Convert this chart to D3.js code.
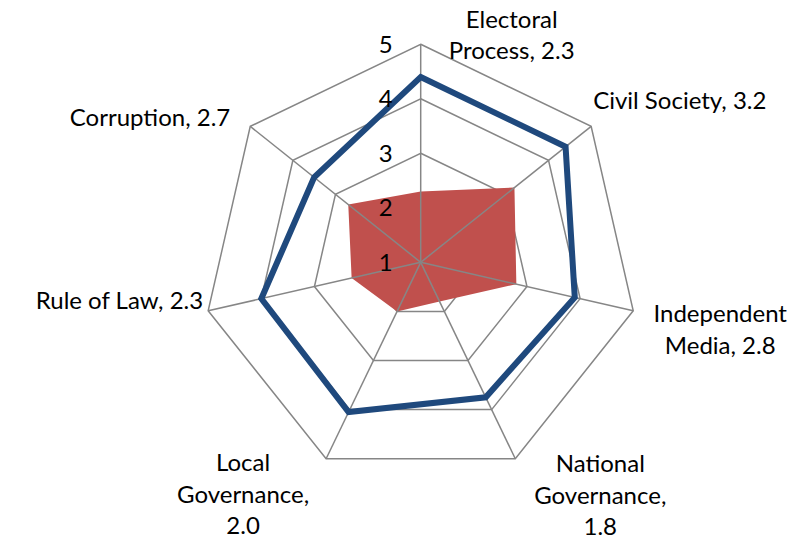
<!DOCTYPE html>
<html>
<head>
<meta charset="utf-8">
<title>Radar</title>
<style>
  html, body { margin: 0; padding: 0; background: #fff; }
  svg text { font-family: Lato, "Open Sans", sans-serif; font-size: 24px; fill: #000; }
</style>
</head>
<body>
<script src="https://cdn.jsdelivr.net/npm/d3@7"></script>
<script>
// data
var categories = ["Electoral Process", "Civil Society", "Independent Media",
                  "National Governance", "Local Governance", "Rule of Law", "Corruption"];
var redValues  = [2.3, 3.2, 2.8, 1.8, 2.0, 2.3, 2.7];
var blueValues = [4.4, 4.4, 3.9, 3.75, 4.05, 4.0, 3.5];
var ticks = [1, 2, 3, 4, 5];

// label lines shown next to each axis
var labelLines = [
  ["Electoral", "Process, 2.3"],
  ["Civil Society, 3.2"],
  ["Independent", "Media, 2.8"],
  ["National", "Governance,", "1.8"],
  ["Local", "Governance,", "2.0"],
  ["Rule of Law, 2.3"],
  ["Corruption, 2.7"]
];
// offsets from the outer vertex: dx, dy of first line, anchor
var labelPos = [
  [91, -25, "middle"],
  [2, -26, "start"],
  [87, 3, "middle"],
  [85, 5, "middle"],
  [-83, 4, "middle"],
  [-5, -10, "end"],
  [-20, -9, "end"]
];

var width = 803, height = 539;
var cx = 420.7, cy = 262.3, R = 218;
var lineH = 31.5;

var svg = d3.select("body").append("svg")
    .attr("width", width)
    .attr("height", height);

var r = d3.scaleLinear().domain([1, 5]).range([0, R]);
var n = categories.length;
var angle = function(i) { return i * 2 * Math.PI / n; };

function pt(i, v) {
  var a = angle(i);
  return [cx + r(v) * Math.sin(a), cy - r(v) * Math.cos(a)];
}

var radial = d3.lineRadial()
    .angle(function(d, i) { return angle(i); })
    .radius(function(d) { return r(d); })
    .curve(d3.curveLinearClosed);

var g = svg.append("g").attr("transform", "translate(" + cx + "," + cy + ")");

// rings
g.selectAll(".ring")
  .data(ticks.slice(1))
  .enter().append("path")
    .attr("class", "ring")
    .attr("d", function(t) { return radial(categories.map(function() { return t; })); })
    .attr("fill", "none")
    .attr("stroke", "#868686")
    .attr("stroke-width", 1.5);

// red area
g.append("path")
  .attr("d", radial(redValues))
  .attr("fill", "#C0504D")
  .attr("stroke", "none");

// spokes
g.selectAll(".spoke")
  .data(categories)
  .enter().append("line")
    .attr("class", "spoke")
    .attr("x1", 0).attr("y1", 0)
    .attr("x2", function(d, i) { return r(5) * Math.sin(angle(i)); })
    .attr("y2", function(d, i) { return -r(5) * Math.cos(angle(i)); })
    .attr("stroke", "#868686")
    .attr("stroke-width", 1.5);

// blue line
g.append("path")
  .attr("d", radial(blueValues))
  .attr("fill", "none")
  .attr("stroke", "#1F497D")
  .attr("stroke-width", 6)
  .attr("stroke-linejoin", "miter");

// tick labels
svg.selectAll(".tick")
  .data(ticks)
  .enter().append("text")
    .attr("class", "tick")
    .attr("x", cx - 28)
    .attr("y", function(t) { return cy - r(t); })
    .attr("dy", "0.35em")
    .attr("text-anchor", "end")
    .text(function(t) { return t; });

// category labels
categories.forEach(function(c, i) {
  var p = pt(i, 5);
  var pos = labelPos[i];
  var t = svg.append("text")
    .attr("text-anchor", pos[2]);
  labelLines[i].forEach(function(l, k) {
    t.append("tspan")
      .attr("x", p[0] + pos[0])
      .attr("y", p[1] + pos[1] + k * lineH)
      .attr("dy", "0.35em")
      .text(l);
  });
});
</script>
</body>
</html>
